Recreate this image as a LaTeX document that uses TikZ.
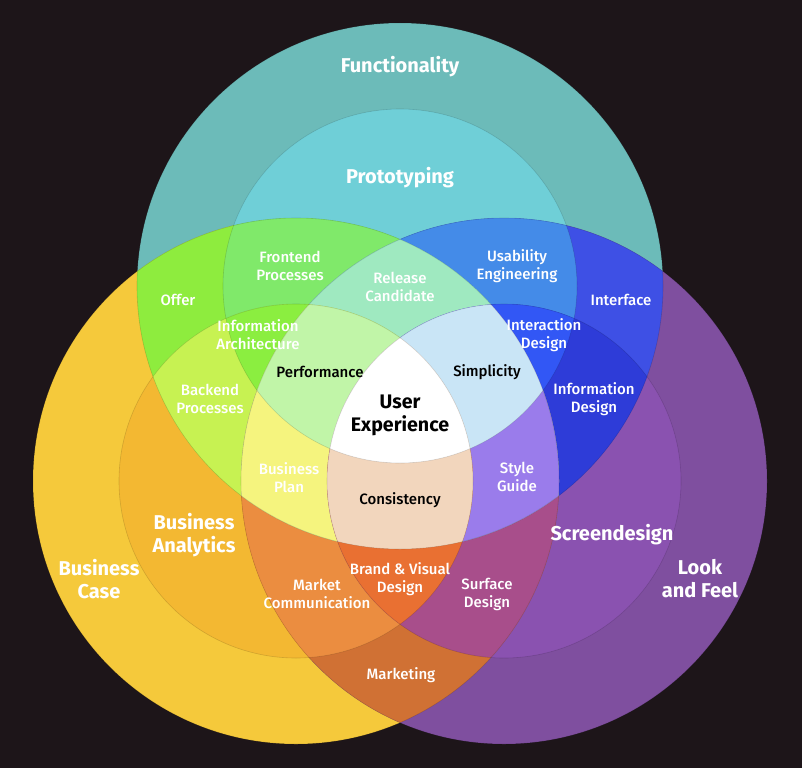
\documentclass[tikz,border=0pt]{standalone}
\usepackage{fontspec}
\setmainfont{Fira Sans}
\newfontfamily\medfont{Fira Sans Medium}
\definecolor{bg}{HTML}{1D1519}
\definecolor{cT}{HTML}{6CBBB9}
\definecolor{ct}{HTML}{6FCFD7}
\definecolor{cL}{HTML}{F5C93B}
\definecolor{cl}{HTML}{F3B832}
\definecolor{cR}{HTML}{7F4F9F}
\definecolor{cr}{HTML}{8A52B0}
\definecolor{cTL}{HTML}{8EEC3E}
\definecolor{cTR}{HTML}{3E50E5}
\definecolor{cLR}{HTML}{D07134}
\definecolor{cTtL}{HTML}{80E96A}
\definecolor{cTtR}{HTML}{448BE8}
\definecolor{cTLl}{HTML}{C7F252}
\definecolor{cLlR}{HTML}{EB8D40}
\definecolor{cTRr}{HTML}{2E3CD8}
\definecolor{cLRr}{HTML}{A84E8B}
\definecolor{cTLR}{HTML}{9FE9C0}
\definecolor{cTtLR}{HTML}{9FE9C0}
\definecolor{cTtLl}{HTML}{8BEE40}
\definecolor{cTtRr}{HTML}{3257F5}
\definecolor{cTLlR}{HTML}{F5F47E}
\definecolor{cTLRr}{HTML}{9A7CEB}
\definecolor{cLlRr}{HTML}{E97032}
\definecolor{cTtLlR}{HTML}{C1F5A8}
\definecolor{cTtLRr}{HTML}{C9E5F6}
\definecolor{cTLlRr}{HTML}{F2D6BD}
\definecolor{cUX}{HTML}{FFFFFF}
\def\CirBT{(400,286) circle[radius=263pt]}
\def\CirMT{(400,286) circle[radius=177pt]}
\def\CirBL{(296,481) circle[radius=263pt]}
\def\CirML{(296,481) circle[radius=177pt]}
\def\CirBR{(504,481) circle[radius=263pt]}
\def\CirMR{(504,481) circle[radius=177pt]}
\begin{document}
\begin{tikzpicture}[x=1pt,y=-1pt,
  lbl/.style={align=center, inner sep=0pt, yshift=-1.8pt},
  big/.style={lbl, font=\bfseries\fontsize{20}{23}\selectfont, text=white},
  small/.style={lbl, font=\medfont\fontsize{15}{18}\selectfont, text=white},
  dark/.style={lbl, font=\medfont\fontsize{15}{18}\selectfont, text=black},
  ux/.style={lbl, font=\bfseries\fontsize{19.6}{23}\selectfont, text=black},
  ring/.style={draw=black, draw opacity=0.14, line width=0.6pt}]
\fill[bg] (0,0) rectangle (802,768);
\useasboundingbox (0,0) rectangle (802,768);
% size 1
\fill[cT] \CirBT;
\fill[cL] \CirBL;
\fill[cR] \CirBR;
% size 2
\fill[ct] \CirMT;
\fill[cl] \CirML;
\fill[cr] \CirMR;
\begin{scope}\clip \CirBT; \fill[cTL] \CirBL;\end{scope}
\begin{scope}\clip \CirBT; \fill[cTR] \CirBR;\end{scope}
\begin{scope}\clip \CirBL; \fill[cLR] \CirBR;\end{scope}
% size 3
\begin{scope}\clip \CirMT; \fill[cTtL] \CirBL;\end{scope}
\begin{scope}\clip \CirMT; \fill[cTtR] \CirBR;\end{scope}
\begin{scope}\clip \CirBT; \fill[cTLl] \CirML;\end{scope}
\begin{scope}\clip \CirML; \fill[cLlR] \CirBR;\end{scope}
\begin{scope}\clip \CirBT; \fill[cTRr] \CirMR;\end{scope}
\begin{scope}\clip \CirBL; \fill[cLRr] \CirMR;\end{scope}
\begin{scope}\clip \CirBT; \clip \CirBL; \fill[cTLR] \CirBR;\end{scope}
% size 4
\begin{scope}\clip \CirMT; \clip \CirBL; \fill[cTtLR] \CirBR;\end{scope}
\begin{scope}\clip \CirMT; \fill[cTtLl] \CirML;\end{scope}
\begin{scope}\clip \CirMT; \fill[cTtRr] \CirMR;\end{scope}
\begin{scope}\clip \CirBT; \clip \CirML; \fill[cTLlR] \CirBR;\end{scope}
\begin{scope}\clip \CirBT; \clip \CirBL; \fill[cTLRr] \CirMR;\end{scope}
\begin{scope}\clip \CirML; \fill[cLlRr] \CirMR;\end{scope}
% size 5
\begin{scope}\clip \CirMT; \clip \CirML; \fill[cTtLlR] \CirBR;\end{scope}
\begin{scope}\clip \CirMT; \clip \CirBL; \fill[cTtLRr] \CirMR;\end{scope}
\begin{scope}\clip \CirBT; \clip \CirML; \fill[cTLlRr] \CirMR;\end{scope}
% size 6
\begin{scope}\clip \CirMT; \clip \CirML; \fill[cUX] \CirMR;\end{scope}
% outlines
\draw[ring] \CirBT; \draw[ring] \CirMT;
\draw[ring] \CirBL; \draw[ring] \CirML;
\draw[ring] \CirBR; \draw[ring] \CirMR;
% labels
\node[big] (functionality) at (400,65) {Functionality};
\node[big] (prototyping) at (400,176) {Prototyping};
\node[small] (frontend) at (290,264) {Frontend\\Processes};
\node[small] (release) at (400,285.5) {Release\\Candidate};
\node[small] (usability) at (517,264) {Usability\\Engineering};
\node[small] (offer) at (178,298) {Offer};
\node[small] (interface) at (621,298) {Interface};
\node[small] (infoarch) at (258,333) {Information\\Architecture};
\node[small] (interaction) at (544,333.5) {Interaction\\Design};
\node[dark] (performance) at (320,370) {Performance};
\node[dark] (simplicity) at (487,370) {Simplicity};
\node[small] (backend) at (210,397) {Backend\\Processes};
\node[small] (infodesign) at (594,397) {Information\\Design};
\node[ux] (ux) at (400,414) {User\\Experience};
\node[small] (bplan) at (289,476) {Business\\Plan};
\node[small] (style) at (517,475.5) {Style\\Guide};
\node[dark] (consistency) at (400,498) {Consistency};
\node[big] (banalytics) at (194,533.5) {Business\\Analytics};
\node[big] (screendesign) at (612,533) {Screendesign};
\node[big] (bcase) at (99,577) {Business\\Case};
\node[big] (look) at (700,577) {Look\\and Feel};
\node[small] (brand) at (400,577) {Brand \& Visual\\Design};
\node[small] (marketcomm) at (317,592.5) {Market\\Communication};
\node[small] (surface) at (487,592.5) {Surface\\Design};
\node[small] (marketing) at (401,673) {Marketing};
\end{tikzpicture}
\end{document}
